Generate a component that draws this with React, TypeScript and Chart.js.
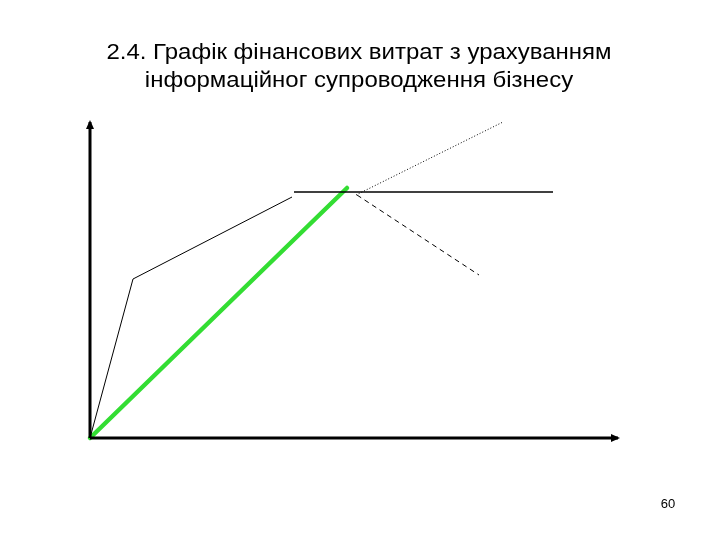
import React, { useEffect, useRef } from "react";
import { Chart, registerables } from "chart.js";

Chart.register(...registerables);

const titleLines = ["2.4. Графік фінансових витрат з урахуванням", "інформаційног супроводження бізнесу"];
const pageNumber = "60";

// data units: x to the right of origin, y up from origin
const axisX = [{ x: 0, y: 0 }, { x: 528, y: 0 }];
const axisY = [{ x: 0, y: 0 }, { x: 0, y: 316 }];
const costBroken = [{ x: 0, y: 0 }, { x: 43, y: 159 }, { x: 202, y: 241 }];
const costFlat = [{ x: 204, y: 246 }, { x: 463, y: 246 }];
const greenLine = [{ x: 0, y: 0 }, { x: 257, y: 250 }];
const dottedLine = [{ x: 266, y: 243 }, { x: 413, y: 316 }];
const dashedLine = [{ x: 267, y: 243 }, { x: 389, y: 163 }];

const X_MAX = 528;
const Y_MAX = 316;

const decorPlugin = {
  id: "decor",
  afterDatasetsDraw(chart: any) {
    const ctx = chart.ctx;
    const xs = chart.scales.x;
    const ys = chart.scales.y;
    ctx.save();
    ctx.fillStyle = "#000";
    // arrow on x axis
    const xe = xs.getPixelForValue(X_MAX);
    const y0 = ys.getPixelForValue(0);
    ctx.beginPath();
    ctx.moveTo(xe + 2, y0);
    ctx.lineTo(xe - 7, y0 - 4);
    ctx.lineTo(xe - 7, y0 + 4);
    ctx.closePath();
    ctx.fill();
    // arrow on y axis
    const x0 = xs.getPixelForValue(0);
    const ye = ys.getPixelForValue(Y_MAX);
    ctx.beginPath();
    ctx.moveTo(x0, ye - 2);
    ctx.lineTo(x0 - 4, ye + 7);
    ctx.lineTo(x0 + 4, ye + 7);
    ctx.closePath();
    ctx.fill();
    // title (slightly wide lettering, as in the reference)
    ctx.font = '22px "Liberation Sans", Arial, sans-serif';
    ctx.textAlign = "center";
    ctx.textBaseline = "middle";
    const drawWide = (text: string, cx: number, cy: number) => {
      ctx.save();
      ctx.translate(cx, cy);
      ctx.scale(1.09, 1);
      ctx.fillText(text, 0, 0);
      ctx.restore();
    };
    drawWide(titleLines[0], 359, 53);
    drawWide(titleLines[1], 359, 81);
    // page number
    ctx.font = '13px "Liberation Sans", Arial, sans-serif';
    ctx.fillText(pageNumber, 668, 504);
    ctx.restore();
  },
};

export default function App() {
  const ref = useRef<HTMLCanvasElement>(null);
  useEffect(() => {
    document.body.style.margin = "0";
    const line = (data: any[], color: string, width: number, dash: number[] = []) => ({
      data,
      borderColor: color,
      backgroundColor: color,
      borderWidth: width,
      borderDash: dash,
      pointRadius: 0,
      fill: false,
      tension: 0,
      borderCapStyle: "butt",
    });
    const chart = new Chart(ref.current as HTMLCanvasElement, {
      type: "line",
      data: {
        datasets: [
          line(axisX, "#000", 3),
          line(axisY, "#000", 3),
          line(costBroken, "#000", 1),
          line(costFlat, "#000", 1.3),
          line(dottedLine, "#000", 1, [1, 2]),
          line(dashedLine, "#000", 1, [5, 4]),
          { ...line(greenLine, "#33dd33", 4.5), borderCapStyle: "round" },
        ] as any,
      },
      options: {
        animation: false,
        responsive: false,
        devicePixelRatio: 1,
        clip: false as any,
        layout: { padding: { left: 90, top: 122, right: 102, bottom: 102 } },
        plugins: { legend: { display: false }, tooltip: { enabled: false }, title: { display: false } },
        scales: {
          x: { type: "linear", min: 0, max: X_MAX, display: false },
          y: { type: "linear", min: 0, max: Y_MAX, display: false },
        },
      },
      plugins: [decorPlugin],
    });
    return () => chart.destroy();
  }, []);
  return (
    <div style={{ width: 720, height: 540, background: "#fff" }}>
      <canvas ref={ref} width={720} height={540} />
    </div>
  );
}
